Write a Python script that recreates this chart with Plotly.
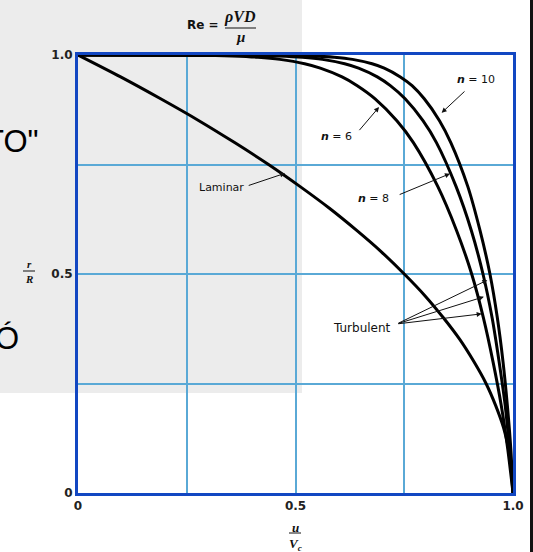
import plotly.graph_objects as go

# Velocity profiles in a pipe: r/R against u/Vc
r_lam = [1.0, 0.95, 0.9, 0.85, 0.8, 0.75, 0.7, 0.65, 0.6, 0.55, 0.5, 0.45, 0.4, 0.35, 0.3, 0.25, 0.2, 0.15, 0.1, 0.05, 0.0]
u_lam = [0.0, 0.098, 0.19, 0.278, 0.36, 0.438, 0.51, 0.578, 0.64, 0.698, 0.75, 0.798, 0.84, 0.878, 0.91, 0.938, 0.96, 0.978, 0.99, 0.998, 1.0]

r_turb = [1.0, 0.999, 0.998, 0.995, 0.99, 0.98, 0.97, 0.95, 0.93, 0.90, 0.85, 0.80, 0.70, 0.60, 0.50, 0.40, 0.30, 0.20, 0.10, 0.0]
u_n6 = [0.0, 0.316, 0.355, 0.414, 0.464, 0.521, 0.557, 0.607, 0.642, 0.683, 0.733, 0.771, 0.827, 0.870, 0.905, 0.932, 0.954, 0.973, 0.988, 1.0]
u_n8 = [0.0, 0.422, 0.460, 0.516, 0.562, 0.613, 0.645, 0.688, 0.718, 0.752, 0.793, 0.824, 0.869, 0.904, 0.931, 0.952, 0.968, 0.982, 0.992, 1.0]
u_n10 = [0.0, 0.501, 0.537, 0.589, 0.631, 0.676, 0.704, 0.741, 0.768, 0.796, 0.831, 0.857, 0.896, 0.924, 0.947, 0.964, 0.977, 0.987, 0.995, 1.0]

tick_vals = [0, 0.25, 0.5, 0.75, 1.0]
x_tick_text = ["0", "", "0.5", "", "1.0"]
y_tick_text = ["0", "", "0.5", "", "1.0"]

W, H = 533, 552
L, R, T, B = 78, 20, 55, 59
PW, PH = W - L - R, H - T - B


def px(x):
    return (x - L) / PW


def py(y):
    return (H - B - y) / PH


FRAME = "#1247c2"
GRID = "#5aa9d6"
SANS = "DejaVu Sans, Verdana, sans-serif"
SLIDE = "Liberation Sans, Arial, sans-serif"
SERIF = "Liberation Serif, Times New Roman, serif"

fig = go.Figure()
for u, r in [(u_lam, r_lam), (u_n6, r_turb), (u_n8, r_turb), (u_n10, r_turb)]:
    fig.add_trace(go.Scatter(
        x=u, y=r, mode="lines", cliponaxis=False,
        line=dict(color="black", width=3, shape="spline", smoothing=0.8),
        hoverinfo="skip", showlegend=False,
    ))

shapes = [
    # faded backdrop behind the left part of the chart
    dict(type="rect", xref="paper", yref="paper", x0=px(0), x1=px(302), y0=py(393), y1=py(0),
         fillcolor="#ececec", line=dict(width=0), layer="below"),
    # dark bar at the right edge
    dict(type="rect", xref="paper", yref="paper", x0=px(530), x1=px(534), y0=py(552), y1=py(0),
         fillcolor="#111111", line=dict(width=0), layer="below"),
    # title fraction bar
    dict(type="line", xref="paper", yref="paper", x0=px(225), x1=px(256), y0=py(28), y1=py(28),
         line=dict(color="#111", width=1)),
    # r/R fraction bar
    dict(type="line", xref="paper", yref="paper", x0=px(23), x1=px(35), y0=py(271), y1=py(271),
         line=dict(color="#111", width=1)),
    # u/Vc fraction bar
    dict(type="line", xref="paper", yref="paper", x0=px(289), x1=px(301), y0=py(533), y1=py(533),
         line=dict(color="#111", width=1)),
]

ann = []


def text(x, y, s, size=12, family=SANS, xanchor="center", color="#111"):
    ann.append(dict(xref="paper", yref="paper", x=px(x), y=py(y), text=s, showarrow=False,
                    xanchor=xanchor, yanchor="middle", font=dict(size=size, family=family, color=color)))


def arrow(tail, head):
    ann.append(dict(xref="x", yref="y", axref="x", ayref="y", x=head[0], y=head[1],
                    ax=tail[0], ay=tail[1], text="", showarrow=True, arrowhead=2,
                    arrowsize=1, arrowwidth=1, arrowcolor="#111", standoff=0, startstandoff=0))


# slide text fragments showing at the left edge
text(41, 141, "TO\"", size=31, family=SLIDE, xanchor="right", color="#000")
text(21, 338, "Ó", size=31, family=SLIDE, xanchor="right", color="#000")

# title: Re = rho V D / mu
text(203, 25, "<b>Re =</b>", size=12)
text(240, 17, "<b><i>ρVD</i></b>", size=16, family=SERIF)
text(240, 37, "<b><i>μ</i></b>", size=15, family=SERIF)

# axis titles
text(29, 264, "<b><i>r</i></b>", size=11, family=SERIF)
text(29, 279, "<b><i>R</i></b>", size=11, family=SERIF)
text(295, 527, "<b><i>u</i></b>", size=13, family=SERIF)
text(295, 544, "<b><i>V<sub>c</sub></i></b>", size=13, family=SERIF)

# curve labels
text(476, 80, "<b><i>n</i></b> = 10", size=11)
text(336, 136, "<b><i>n</i></b> = 6", size=11)
text(373, 198, "<b><i>n</i></b> = 8", size=11)
text(221, 188, "Laminar", size=11)
text(362, 328, "Turbulent", size=12)

arrow((0.892, 0.920), (0.836, 0.868))
arrow((0.644, 0.825), (0.692, 0.881))
arrow((0.736, 0.680), (0.855, 0.729))
arrow((0.389, 0.701), (0.476, 0.730))
arrow((0.733, 0.386), (0.941, 0.486))
arrow((0.733, 0.386), (0.933, 0.448))
arrow((0.733, 0.386), (0.928, 0.409))

axis_common = dict(
    range=[0, 1], tickvals=tick_vals, showgrid=True, gridcolor=GRID, gridwidth=1.5,
    zeroline=False, showline=True, linecolor=FRAME, linewidth=3, mirror=True,
    ticks="", layer="below traces", fixedrange=True,
    tickfont=dict(size=12, family=SANS, color="#222", weight="bold"),
)

fig.update_layout(
    width=W, height=H, margin=dict(l=L, r=R, t=T, b=B, autoexpand=False),
    paper_bgcolor="white", plot_bgcolor="rgba(0,0,0,0)",
    xaxis=dict(axis_common, ticktext=x_tick_text),
    yaxis=dict(axis_common, ticktext=y_tick_text),
    shapes=shapes, annotations=ann, showlegend=False,
)

fig.write_html("out.html")
